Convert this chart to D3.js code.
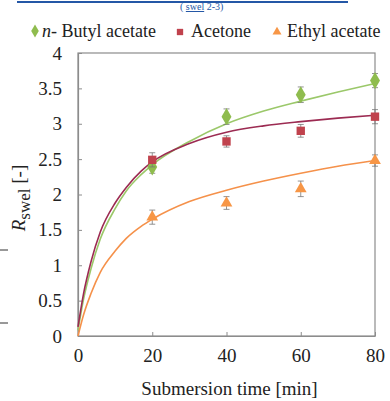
<!DOCTYPE html>
<html>
<head>
<meta charset="utf-8">
<script src="https://cdn.jsdelivr.net/npm/d3@7"></script>
<style>
  html, body { margin: 0; padding: 0; background: #fff; }
  svg { display: block; font-family: "Liberation Serif", "Times New Roman", serif; }
</style>
</head>
<body>
<div id="chart"></div>
<script>
// measured points (submersion time in min, R_swel)
const times = [20, 40, 60, 80];
const butyl = [2.39, 3.10, 3.41, 3.61];
const acetone = [2.49, 2.75, 2.90, 3.10];
const ethyl = [1.68, 1.88, 2.08, 2.48];
const butylErr = [0.09, 0.11, 0.11, 0.1];
const acetoneErr = [0.1, 0.08, 0.09, 0.1];
const ethylErr = [0.1, 0.09, 0.11, 0.08];

// fitted curves
const fitTimes = [0, 1.5, 3.5, 6, 10, 13, 17, 20, 30, 40, 50, 60, 70, 80];
const butylFit = [0.08, 0.52, 0.95, 1.37, 1.80, 2.05, 2.28, 2.42, 2.75, 3.00, 3.18, 3.32, 3.45, 3.57];
const acetoneFit = [0.13, 0.60, 1.05, 1.47, 1.88, 2.10, 2.33, 2.46, 2.72, 2.88, 2.97, 3.03, 3.08, 3.12];
const ethylFit = [0.0, 0.30, 0.60, 0.90, 1.20, 1.38, 1.55, 1.65, 1.90, 2.06, 2.19, 2.30, 2.40, 2.48];

const xTicks = [0, 20, 40, 60, 80];
const yTicks = [0, 0.5, 1, 1.5, 2, 2.5, 3, 3.5, 4];

const width = 390, height = 401;
const margin = { top: 53, right: 15, bottom: 65, left: 78 };

const svg = d3.select('#chart').append('svg')
  .attr('width', width)
  .attr('height', height);

const x = d3.scaleLinear().domain([0, 80]).range([margin.left, width - margin.right]);
const y = d3.scaleLinear().domain([0, 4]).range([height - margin.bottom, margin.top]);

// cut-off caption line at the very top
svg.append('line')
  .attr('x1', 17).attr('x2', 348).attr('y1', 2).attr('y2', 2)
  .attr('stroke', '#2457a6').attr('stroke-width', 2);
const cap = svg.append('text')
  .attr('x', 180).attr('y', 10)
  .attr('fill', '#2457a6').style('font-size', '10px');
cap.append('tspan').text('( ');
cap.append('tspan').attr('text-decoration', 'underline').text('swel');
cap.append('tspan').text(' 2-3)');

// stray marks on the left edge
[250, 323].forEach(v => {
  svg.append('line')
    .attr('x1', 0).attr('x2', 8).attr('y1', v).attr('y2', v)
    .attr('stroke', '#333').attr('stroke-width', 1);
});

// plot frame
svg.append('rect')
  .attr('x', margin.left).attr('y', margin.top)
  .attr('width', width - margin.left - margin.right)
  .attr('height', height - margin.top - margin.bottom)
  .attr('fill', 'none').attr('stroke', '#8c8c8c').attr('stroke-width', 1.2);

// axes with inward ticks
const xAxis = svg.append('g')
  .attr('transform', `translate(0,${height - margin.bottom})`)
  .call(d3.axisBottom(x).tickValues(xTicks).tickSizeInner(-4).tickSizeOuter(0).tickPadding(13));
const yAxis = svg.append('g')
  .attr('transform', `translate(${margin.left},0)`)
  .call(d3.axisLeft(y).tickValues(yTicks).tickFormat(d => String(d))
    .tickSizeInner(-4).tickSizeOuter(0).tickPadding(16));

[xAxis, yAxis].forEach(a => {
  a.select('.domain').attr('stroke', '#8c8c8c').attr('stroke-width', 1.2);
  a.selectAll('.tick line').attr('stroke', '#8c8c8c');
  a.selectAll('.tick text')
    .style('font-family', '"Liberation Serif", "Times New Roman", serif')
    .style('font-size', '19px')
    .attr('fill', '#222');
});

// axis titles
svg.append('text')
  .attr('x', x(40) + 3).attr('y', 395)
  .attr('text-anchor', 'middle')
  .style('font-size', '19px').attr('fill', '#222')
  .text('Submersion time [min]');

const yTitle = svg.append('text')
  .attr('transform', 'translate(25,198) rotate(-90)')
  .attr('text-anchor', 'middle')
  .style('font-size', '19px').attr('fill', '#222');
yTitle.append('tspan').style('font-style', 'italic').text('R');
yTitle.append('tspan').attr('dy', 5).style('font-size', '17px').text('swel');
yTitle.append('tspan').attr('dy', -5).text(' [-]');

const series = [
  { vals: butyl, err: butylErr, fit: butylFit, color: '#8fbc4e', line: '#9bc86a', shape: d3.symbolDiamond, size: 85 },
  { vals: acetone, err: acetoneErr, fit: acetoneFit, color: '#c0424d', line: '#9c2b52', shape: d3.symbolSquare, size: 70 },
  { vals: ethyl, err: ethylErr, fit: ethylFit, color: '#f79646', line: '#f5914a', shape: d3.symbolTriangle, size: 60 }
];

const line = d3.line()
  .x(d => x(d[0]))
  .y(d => y(d[1]))
  .curve(d3.curveMonotoneX);

// fitted curves
series.forEach(s => {
  svg.append('path')
    .datum(fitTimes.map((t, i) => [t, s.fit[i]]))
    .attr('d', line)
    .attr('fill', 'none')
    .attr('stroke', s.line)
    .attr('stroke-width', 1.6);
});

// error bars and markers
series.forEach(s => {
  const g = svg.append('g');
  times.forEach((t, i) => {
    const cx = x(t);
    const lo = y(s.vals[i] - s.err[i]), hi = y(s.vals[i] + s.err[i]);
    g.append('line').attr('x1', cx).attr('x2', cx).attr('y1', lo).attr('y2', hi)
      .attr('stroke', '#777').attr('stroke-width', 0.8);
    [lo, hi].forEach(v => g.append('line')
      .attr('x1', cx - 3).attr('x2', cx + 3).attr('y1', v).attr('y2', v)
      .attr('stroke', '#777').attr('stroke-width', 0.8));
  });
  g.selectAll('path')
    .data(times)
    .enter().append('path')
    .attr('transform', (t, i) => `translate(${x(t)},${y(s.vals[i])})`)
    .attr('d', d3.symbol().type(s.shape).size(s.size))
    .attr('fill', s.color);
});

// legend
const legend = svg.append('g').style('font-size', '18px').attr('fill', '#222');
legend.append('path').attr('transform', 'translate(35,31)')
  .attr('d', d3.symbol().type(d3.symbolDiamond).size(50)).attr('fill', series[0].color);
const lt = legend.append('text').attr('x', 42).attr('y', 37).attr('fill', '#222');
lt.append('tspan').style('font-style', 'italic').text('n');
lt.append('tspan').text('- Butyl acetate');
legend.append('path').attr('transform', 'translate(180,32)')
  .attr('d', d3.symbol().type(d3.symbolSquare).size(40)).attr('fill', series[1].color);
legend.append('text').attr('x', 191).attr('y', 37).attr('fill', '#222').text('Acetone');
legend.append('path').attr('transform', 'translate(277,32)')
  .attr('d', d3.symbol().type(d3.symbolTriangle).size(35)).attr('fill', series[2].color);
legend.append('text').attr('x', 287).attr('y', 37).attr('fill', '#222').text('Ethyl acetate');
</script>
</body>
</html>
